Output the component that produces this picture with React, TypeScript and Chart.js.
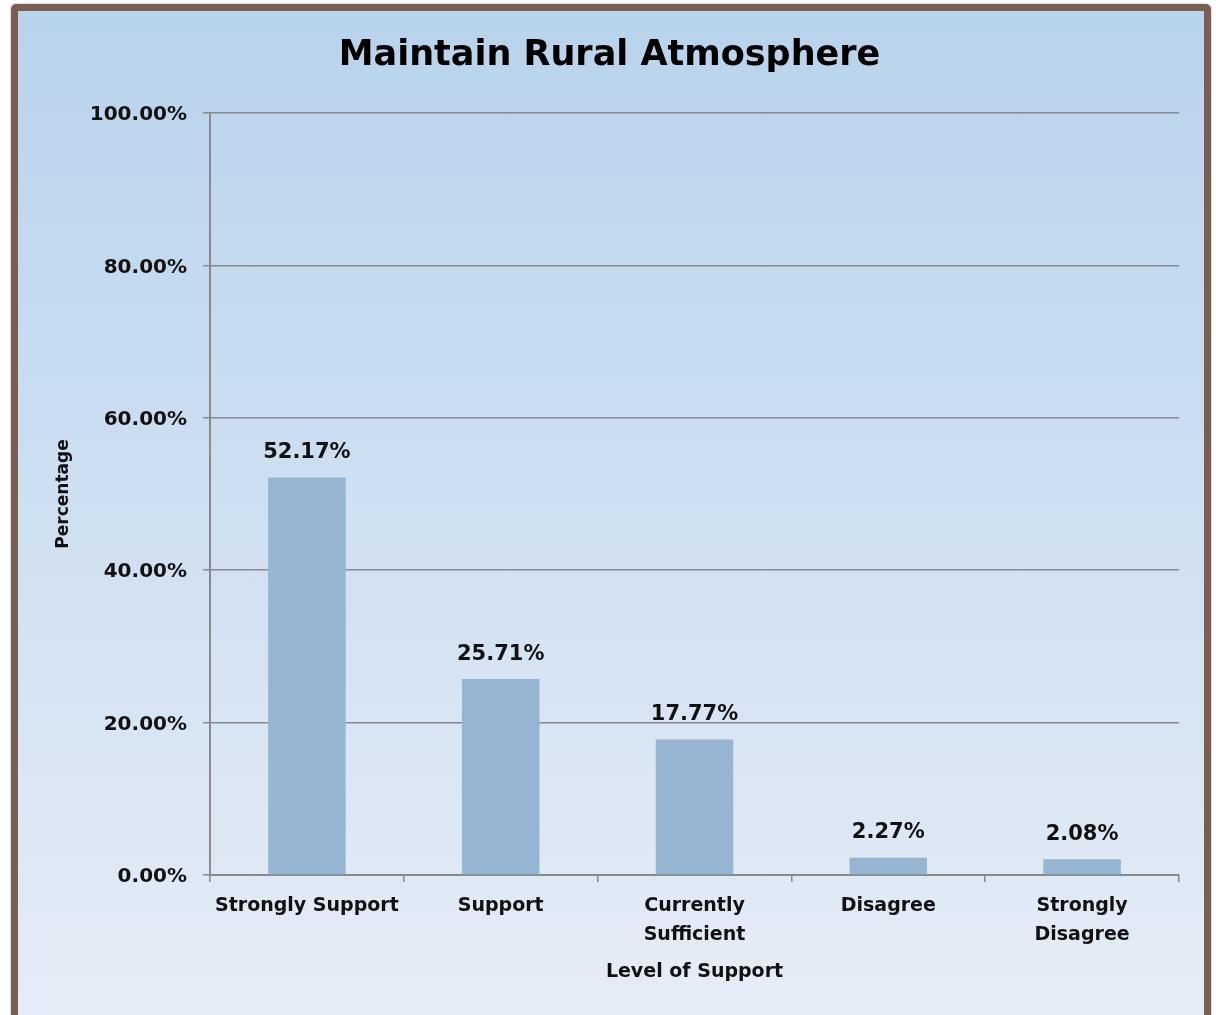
import React, { useEffect, useRef } from "react";
import { Chart, registerables } from "chart.js";

Chart.register(...registerables);

const categories: (string | string[])[] = [
  "Strongly Support",
  "Support",
  ["Currently", "Sufficient"],
  "Disagree",
  ["Strongly", "Disagree"],
];
const percentages: number[] = [52.17, 25.71, 17.77, 2.27, 2.08];
const yTicks: number[] = [0, 20, 40, 60, 80, 100];

const FONT = "'DejaVu Sans', sans-serif";

const dataLabelPlugin = {
  id: "dataLabels",
  afterDatasetsDraw(chart: any) {
    const ctx = chart.ctx;
    const meta = chart.getDatasetMeta(0);
    ctx.save();
    ctx.font = `bold 21px ${FONT}`;
    ctx.fillStyle = "#111111";
    ctx.textAlign = "center";
    ctx.textBaseline = "middle";
    meta.data.forEach((bar: any, i: number) => {
      ctx.fillText(percentages[i].toFixed(2) + "%", bar.x, bar.y - 25);
    });
    ctx.restore();
  },
};

export default function App() {
  const canvasRef = useRef<HTMLCanvasElement | null>(null);

  useEffect(() => {
    if (!canvasRef.current) return;
    const chart = new Chart(canvasRef.current, {
      type: "bar",
      data: {
        labels: categories,
        datasets: [
          {
            data: percentages,
            backgroundColor: "#95b5d3",
            borderWidth: 0,
            categoryPercentage: 1,
            barPercentage: 0.4,
          },
        ],
      },
      plugins: [dataLabelPlugin],
      options: {
        animation: false,
        responsive: false,
        maintainAspectRatio: false,
        layout: { padding: { left: 40, right: 37, top: 0, bottom: 20 } },
        plugins: {
          legend: { display: false },
          tooltip: { enabled: false },
          title: {
            display: true,
            text: "Maintain Rural Atmosphere",
            color: "#000000",
            font: { family: FONT, size: 35, weight: "bold" },
            padding: { top: 35, bottom: 36 },
          },
        },
        scales: {
          x: {
            grid: {
              drawOnChartArea: false,
              drawTicks: true,
              tickLength: 7,
              color: "#8a8a8a",
              lineWidth: 1.5,
            },
            border: { color: "#8a8a8a", width: 2 },
            ticks: {
              color: "#111111",
              font: { family: FONT, size: 19, weight: "bold", lineHeight: 1.5 },
              padding: 10,
              maxRotation: 0,
              autoSkip: false,
            },
            title: {
              display: true,
              text: "Level of Support",
              color: "#111111",
              font: { family: FONT, size: 19, weight: "bold", lineHeight: 1.2 },
              padding: { top: 0, bottom: 12 },
            },
            afterFit(scale: any) {
              scale.height = 120;
            },
          },
          y: {
            min: 0,
            max: 100,
            afterBuildTicks(scale: any) {
              scale.ticks = yTicks.map((v) => ({ value: v }));
            },
            grid: {
              color: "#8a8a8a",
              lineWidth: 1.5,
              tickLength: 7,
            },
            border: { color: "#8a8a8a", width: 2 },
            ticks: {
              color: "#111111",
              font: { family: FONT, size: 20, weight: "bold" },
              padding: 16,
              labelOffset: 2,
              callback: (v: any) => Number(v).toFixed(2) + "%",
            },
            title: {
              display: true,
              text: "Percentage",
              color: "#111111",
              font: { family: FONT, size: 17, weight: "bold", lineHeight: 1.2 },
              padding: { top: 13, bottom: 0 },
            },
            afterFit(scale: any) {
              scale.width = 170;
            },
          },
        },
      },
    });
    return () => chart.destroy();
  }, []);

  return (
    <div
      style={{
        position: "absolute",
        left: 0,
        top: 0,
        width: 1216,
        height: 1015,
        background: "#ffffff",
        overflow: "hidden",
      }}
    >
      <div
        style={{
          position: "absolute",
          left: 11,
          top: 4,
          width: 1186,
          height: 1020,
          border: "7px solid #7a5e54",
          borderRadius: 5,
          background: "linear-gradient(to bottom, #b8d3ec 0%, #e6edf7 100%)",
          boxShadow: "0 0 2px 1px rgba(0,0,0,0.15)",
        }}
      />
      <canvas
        ref={canvasRef}
        width={1216}
        height={1015}
        style={{ position: "absolute", left: 0, top: 0, width: 1216, height: 1015 }}
      />
    </div>
  );
}
